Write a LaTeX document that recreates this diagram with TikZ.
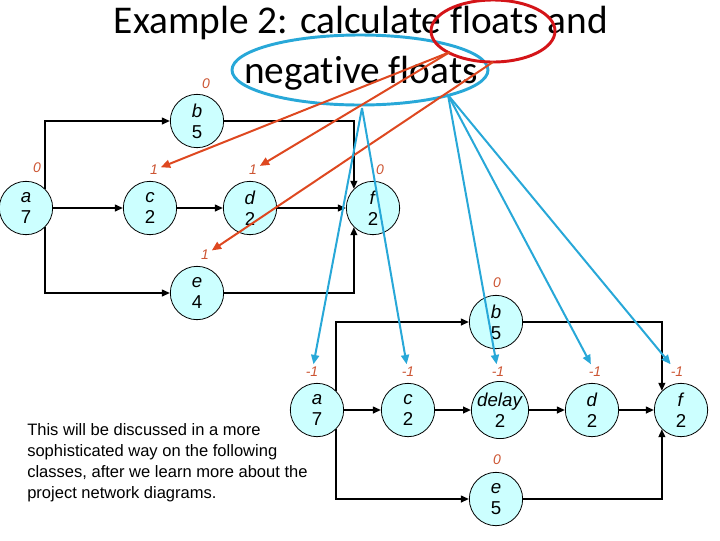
\documentclass[tikz,border=0pt]{standalone}
\usepackage{fontspec}
\setmainfont{Liberation Sans}
\newfontfamily\titlefont[Ligatures=NoCommon]{Carlito}
\usetikzlibrary{calc,positioning,arrows.meta}
\definecolor{NodeCyan}{RGB}{204,255,255}
\definecolor{FloatOrange}{RGB}{204,85,51}
\definecolor{MarkBlue}{RGB}{40,168,216}
\definecolor{MarkRed}{RGB}{212,20,24}
\definecolor{ArrowRed}{RGB}{222,72,32}

\begin{document}
\begin{tikzpicture}[x=0.75pt,y=-0.75pt,
	act/.style={circle,draw,line width=0.6pt,fill=NodeCyan,minimum size=40pt,inner sep=0pt,align=center,font=\fontsize{14}{15.75}\selectfont},
	flt/.style={font=\fontsize{10.5}{12}\selectfont\itshape,text=FloatOrange,inner sep=2pt},
	link/.style={line width=1.4pt,-{Triangle[length=6pt,width=5pt]}},
	redarr/.style={ArrowRed,line width=1.5pt,-{Triangle[length=7pt,width=6pt]}},
	bluearr/.style={MarkBlue,line width=1.5pt,-{Triangle[length=7pt,width=6pt]}},
	ttl/.style={font=\titlefont\fontsize{29.5}{34}\selectfont,inner sep=0pt,anchor=base}]
	\useasboundingbox (0,0) rectangle (720,540);
	% title
	\node[ttl] (t1) at (361,33) {Example 2: calculate floats and};
	\node[ttl] (t2) at (361,83) {negative floats};
	\draw[MarkBlue,line width=2.2pt] (360,70) ellipse [x radius=128,y radius=35];
	\draw[MarkRed,line width=2.2pt] (493,31) ellipse [x radius=62,y radius=31];
	% first network
	\node[act] (a1) at (26,208) {\textit{a}\\7};
	\node[act] (b1) at (197,121) {\textit{b}\\5};
	\node[act] (c1) at (150,208) {\textit{c}\\2};
	\node[act] (d1) at (250,208) {\textit{d}\\2};
	\node[act] (e1) at (197,293) {\textit{e}\\4};
	\node[act] (f1) at (373,208) {\textit{f}\\2};
	\node[flt] (fa1) at (37,168) {0};
	\node[flt] (fb1) at (206,84) {0};
	\node[flt] (fc1) at (154,170) {1};
	\node[flt] (fd1) at (253,170) {1};
	\node[flt] (fe1) at (205,255) {1};
	\node[flt] (ff1) at (380,170) {0};
	% second network
	\node[act] (a2) at (317,410) {\textit{a}\\7};
	\node[act] (b2) at (496,322) {\textit{b}\\5};
	\node[act] (c2) at (408,410) {\textit{c}\\2};
	\node[act] (dl2) at (500,410) {\textit{delay}\\2};
	\node[act] (d2) at (592,410) {\textit{d}\\2};
	\node[act] (e2) at (496,499) {\textit{e}\\5};
	\node[act] (f2) at (681,410) {\textit{f}\\2};
	\node[flt] (fa2) at (312,372) {-1};
	\node[flt] (fb2) at (497,283) {0};
	\node[flt] (fc2) at (408,372) {-1};
	\node[flt] (fdl2) at (498,372) {-1};
	\node[flt] (fd2) at (595,372) {-1};
	\node[flt] (fe2) at (497,460) {0};
	\node[flt] (ff2) at (677,372) {-1};
	% connectors
	\foreach \u/\v in {a1/c1,c1/d1,d1/f1,a2/c2,c2/dl2,dl2/d2,d2/f2}
		\draw[link] (\u) -- (\v);
	\foreach \n in {1,2} {
		\draw[link] (a\n.north east) |- (b\n);
		\draw[link] (a\n.south east) |- (e\n);
		\draw[link] (b\n) -| (f\n.north west);
		\draw[link] (e\n) -| (f\n.south west);
	}
	% note
	\node[anchor=north west,align=left,inner sep=0pt,font=\fontsize{12.4}{15.75}\selectfont] (note) at (27,423)
		{This will be discussed in a more\\sophisticated way on the following\\classes, after we learn more about the\\project network diagrams.};
	% pointers
	\coordinate (rs1) at (450,52);
	\coordinate (rs2) at (493,62);
	\coordinate (bs1) at (362,108);
	\coordinate (bs2) at (448,95);
	\draw[redarr] (rs1) -- (fc1);
	\draw[redarr] (rs1) -- (fd1);
	\draw[redarr] (rs2) -- (fe1);
	\foreach \t in {fa2,fc2}
		\draw[bluearr] (bs1) -- (\t);
	\foreach \t in {fdl2,fd2,ff2}
		\draw[bluearr] (bs2) -- (\t);
\end{tikzpicture}
\end{document}
